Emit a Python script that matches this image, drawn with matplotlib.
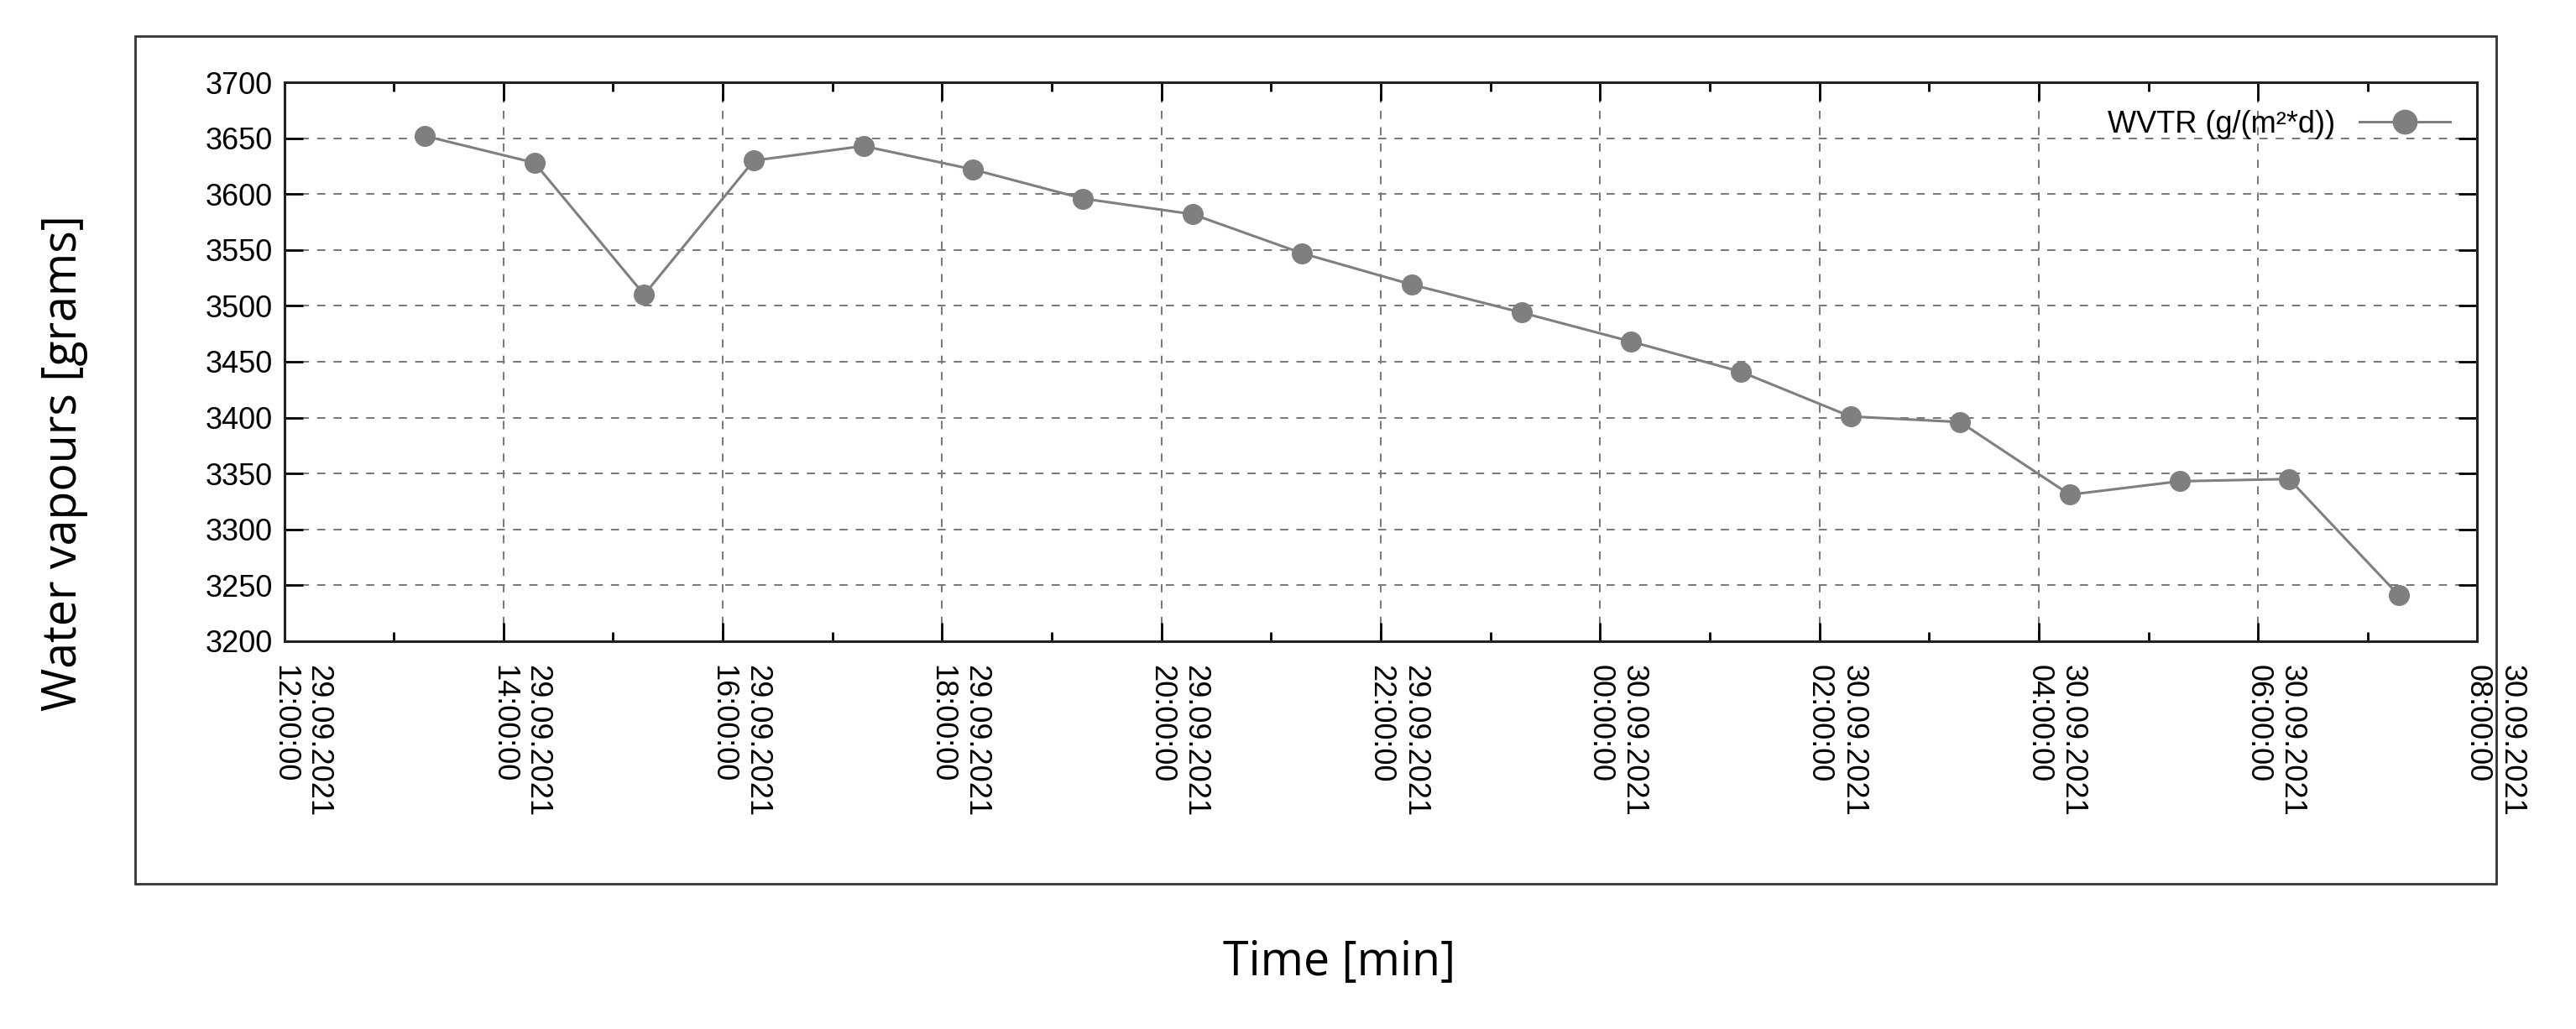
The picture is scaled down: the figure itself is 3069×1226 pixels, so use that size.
from matplotlib import pyplot as plt
from matplotlib.patches import Rectangle
from matplotlib.transforms import ScaledTranslation
import matplotlib.dates as mdates
import pandas as pd

times = pd.date_range("2021-09-29 13:17", periods=19, freq="h")
wvtr = [3652, 3628, 3510, 3630, 3643, 3622, 3596, 3582, 3547, 3519, 3494,
        3468, 3441, 3401, 3396, 3331, 3343, 3345, 3241]
series_label = "WVTR (g/(m²*d))"

plt.rcParams['font.family'] = ['Liberation Sans', 'DejaVu Sans']

fig = plt.figure(figsize=(30.69, 12.26), dpi=100)
fig.patches.append(Rectangle((0.0523, 0.141), 0.9167, 0.824, transform=fig.transFigure,
                             fill=False, edgecolor='#333333', linewidth=2))
ax = fig.add_axes([0.1103, 0.377, 0.8514, 0.543])

ax.plot(times, wvtr, color='#7f7f7f', linewidth=2.2, marker='o', markersize=17,
        markerfacecolor='#7f7f7f', markeredgecolor='#7f7f7f', label=series_label)

ax.set_xlim(pd.Timestamp("2021-09-29 12:00"), pd.Timestamp("2021-09-30 08:00"))
ax.set_ylim(3200, 3700)
ax.set_yticks(range(3200, 3701, 50))
ax.xaxis.set_major_locator(mdates.HourLocator(interval=2))
ax.xaxis.set_minor_locator(mdates.HourLocator(interval=1))
ax.xaxis.set_major_formatter(mdates.DateFormatter("%d.%m.%Y\n%H:%M:%S"))

ax.tick_params(axis='both', which='major', direction='in', length=16, width=2,
               labelsize=26, top=True, right=True, pad=10)
ax.tick_params(axis='x', which='major', pad=20)
ax.tick_params(axis='x', which='minor', direction='in', length=8, width=2, top=True)

shift = ScaledTranslation(0.2, 0, fig.dpi_scale_trans)
for lbl in ax.get_xticklabels():
    lbl.set_rotation(270)
    lbl.set_ha('center')
    lbl.set_va('top')
    lbl.set_multialignment('left')
    lbl.set_transform(lbl.get_transform() + shift)

ax.grid(True, which='major', linestyle=(0, (5, 5)), color='#777777', linewidth=1.4)
for s in ax.spines.values():
    s.set_linewidth(2.2)
    s.set_color('#222222')

ax.legend(loc='upper right', frameon=False, markerfirst=False, fontsize=26,
          handlelength=3, borderaxespad=0.5, markerscale=1.2)

fig.text(0.025, 0.55, "Water vapours [grams]", rotation=90, ha='center', va='center',
         fontsize=40, family=['Open Sans', 'DejaVu Sans'])
fig.text(0.52, 0.065, "Time [min]", ha='center', va='center',
         fontsize=40, family=['Open Sans', 'DejaVu Sans'])

fig.savefig("out.png", dpi=100)
